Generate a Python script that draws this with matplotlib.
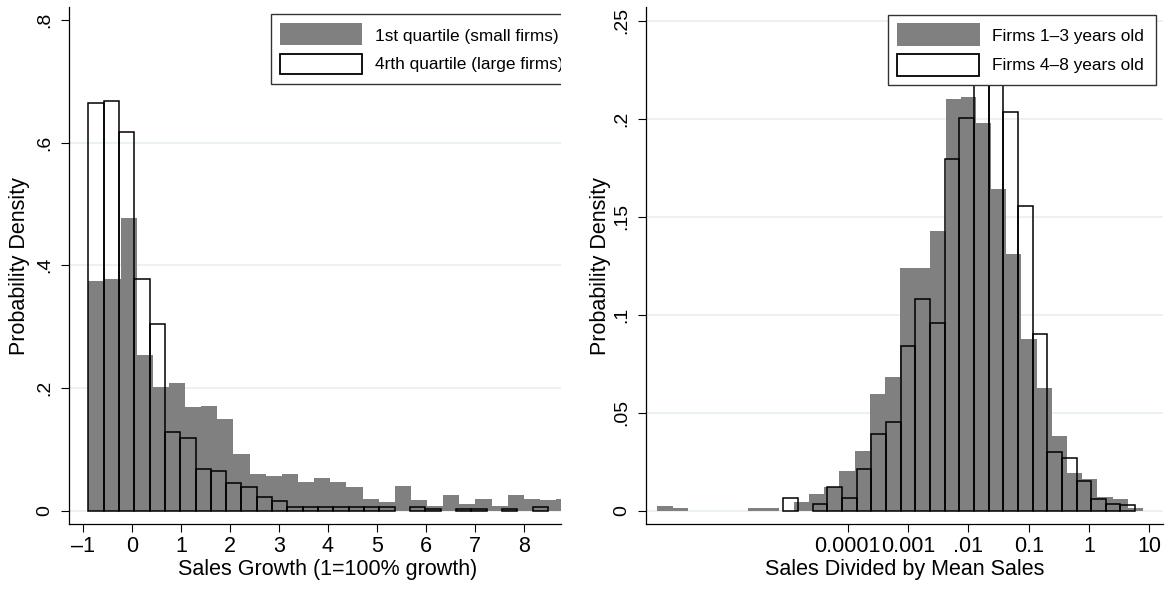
import numpy as np
import matplotlib.pyplot as plt
from matplotlib.patches import Rectangle

plt.rcParams['font.family'] = ['Liberation Sans', 'DejaVu Sans']

# Sales growth: density per bin, small firms (1st quartile) and large firms (4th quartile)
growth_small_start = -0.892
growth_small_width = 0.3294
growth_small = [0.375, 0.377, 0.477, 0.253, 0.202, 0.2077, 0.1685, 0.171, 0.150, 0.0924,
                0.0593, 0.0566, 0.0593, 0.0473, 0.053, 0.047, 0.038, 0.0196, 0.014, 0.041,
                0.017, 0.007, 0.026, 0.011, 0.0196, 0.007, 0.026, 0.0196, 0.017, 0.0196]
growth_large_start = -0.892
growth_large_width = 0.3128
growth_large = [0.665, 0.668, 0.617, 0.377, 0.304, 0.129, 0.119, 0.068, 0.0647, 0.045,
                0.0386, 0.0228, 0.0158, 0.0065, 0.0065, 0.0065, 0.0065, 0.0065, 0.0065, 0.0065,
                0, 0.0065, 0.0035, 0, 0.0035, 0.0035, 0, 0.0035, 0, 0.0065]
growth_ticks = [-1, 0, 1, 2, 3, 4, 5, 6, 7, 8]
growth_yticks = [0, 0.2, 0.4, 0.6, 0.8]
growth_ylabels = ["0", ".2", ".4", ".6", ".8"]
growth_grid = [0, 0.2, 0.4, 0.6]

# Firm size: log10(sales / mean sales), young (1-3 yrs) and older (4-8 yrs) firms
size_young_start = -7.155
size_young_width = 0.2515
size_young = [0.0023, 0.0015, 0, 0, 0, 0, 0.0015, 0.0015, 0, 0.0044,
              0.0085, 0.012, 0.020, 0.0304, 0.0596, 0.068, 0.124, 0.124, 0.1425, 0.210,
              0.2112, 0.1976, 0.164, 0.131, 0.0874, 0.0624, 0.0381, 0.019, 0.016, 0.0071,
              0.0061, 0.0012]
size_old_start = -5.065
size_old_width = 0.2429
size_old = [0.0063, 0, 0.0033, 0.0122, 0.0063, 0.0211, 0.0391, 0.0451, 0.084, 0.1078,
            0.0959, 0.1796, 0.2005, 0.234, 0.229, 0.2034, 0.1556, 0.090, 0.030, 0.027,
            0.015, 0.006, 0.0033, 0.0029]
size_ticks = [-4, -3, -2, -1, 0, 1]
size_xlabels = ["0.0001", "0.001", ".01", "0.1", "1", "10"]
size_yticks = [0, 0.05, 0.1, 0.15, 0.2, 0.25]
size_ylabels = ["0", ".05", ".1", ".15", ".2", ".25"]

GRAY = "#808080"
GRID = "#e8f0f2"


def draw_hist(ax, start, width, heights, filled):
    h = np.asarray(heights, dtype=float)
    edges = start + width * np.arange(len(h))
    keep = h > 0
    if filled:
        ax.bar(edges[keep], h[keep], width=width, align="edge",
               color=GRAY, linewidth=0, zorder=2)
    else:
        ax.bar(edges[keep], h[keep], width=width, align="edge", fill=False,
               edgecolor="black", linewidth=1.1, zorder=3)


def draw_legend(ax, box, gray_sw, white_sw, text_x, text_y, labels):
    # hand-made legend so that it gets clipped by the plot region
    frame = Rectangle(box[:2], box[2], box[3], transform=ax.transAxes,
                      facecolor="white", edgecolor="#333333", linewidth=1.0, zorder=5)
    ax.add_patch(frame)
    ax.add_patch(Rectangle(gray_sw[:2], gray_sw[2], gray_sw[3], transform=ax.transAxes,
                           facecolor=GRAY, linewidth=0, zorder=6))
    ax.add_patch(Rectangle(white_sw[:2], white_sw[2], white_sw[3], transform=ax.transAxes,
                           facecolor="white", edgecolor="black", linewidth=1.3, zorder=6))
    for y, lab in zip(text_y, labels):
        ax.text(text_x, y, lab, transform=ax.transAxes, fontsize=12.4,
                va="center", ha="left", zorder=7, clip_on=True)


def style_axes(ax, grid):
    for s in ["top", "right"]:
        ax.spines[s].set_visible(False)
    for s in ["left", "bottom"]:
        ax.spines[s].set_linewidth(0.9)
    ax.tick_params(direction="out", length=6, width=0.8)
    ax.tick_params(axis="y", labelrotation=90, pad=5, labelsize=14)
    ax.tick_params(axis="x", pad=3, labelsize=15.5)
    for lab in ax.get_yticklabels():
        lab.set_verticalalignment("center")
    for g in grid:
        ax.axhline(g, color=GRID, linewidth=1.2, zorder=1)


fig = plt.figure(figsize=(11.73, 5.89), dpi=100)
ax1 = fig.add_axes([69 / 1173, 65 / 589, 491.7 / 1173, 516.7 / 589])
ax2 = fig.add_axes([645.7 / 1173, 65 / 589, 517 / 1173, 516.7 / 589])

# left: sales growth
draw_hist(ax1, growth_small_start, growth_small_width, growth_small, True)
draw_hist(ax1, growth_large_start, growth_large_width, growth_large, False)
ax1.set_xlim(-1.286, 8.755)
ax1.set_ylim(-0.0217, 0.8205)
ax1.set_xticks(growth_ticks)
ax1.set_xticklabels(["\u20131" if t == -1 else str(t) for t in growth_ticks])
ax1.set_yticks(growth_yticks)
ax1.set_yticklabels(growth_ylabels)
style_axes(ax1, growth_grid)
ax1.set_xlabel("Sales Growth (1=100% growth)", fontsize=15.5)
ax1.set_ylabel("Probability Density", fontsize=15.5)
ax1.xaxis.label.set_verticalalignment("center")
ax1.yaxis.label.set_verticalalignment("center")
ax1.xaxis.set_label_coords(0.526, -45 / 516.7)
ax1.yaxis.set_label_coords(-49 / 491.7, 0.5)
draw_legend(ax1, (0.4118, 0.852, 0.62, 0.135),
            (0.4283, 0.927, 0.168, 0.0426), (0.430, 0.871, 0.1657, 0.039),
            0.622, [0.9444, 0.890],
            ["1st quartile (small firms)", "4rth quartile (large firms)"])

# right: sales relative to mean, log scale
draw_hist(ax2, size_young_start, size_young_width, size_young, True)
draw_hist(ax2, size_old_start, size_old_width, size_old, False)
ax2.set_xlim(-7.349, 1.222)
ax2.set_ylim(-0.0068, 0.2568)
ax2.set_xticks(size_ticks)
ax2.set_xticklabels(size_xlabels)
ax2.set_yticks(size_yticks)
ax2.set_yticklabels(size_ylabels)
style_axes(ax2, size_yticks)
ax2.set_xlabel("Sales Divided by Mean Sales", fontsize=15.5)
ax2.set_ylabel("Probability Density", fontsize=15.5)
ax2.xaxis.label.set_verticalalignment("center")
ax2.yaxis.label.set_verticalalignment("center")
ax2.xaxis.set_label_coords(0.5, -45 / 516.7)
ax2.yaxis.set_label_coords(-45 / 517, 0.5)
draw_legend(ax2, (0.4689, 0.849, 0.5178, 0.137),
            (0.4857, 0.925, 0.1601, 0.044), (0.487, 0.868, 0.158, 0.041),
            0.670, [0.9444, 0.888],
            ["Firms 1\u20133 years old", "Firms 4\u20138 years old"])

fig.savefig("out.png", dpi=100)
